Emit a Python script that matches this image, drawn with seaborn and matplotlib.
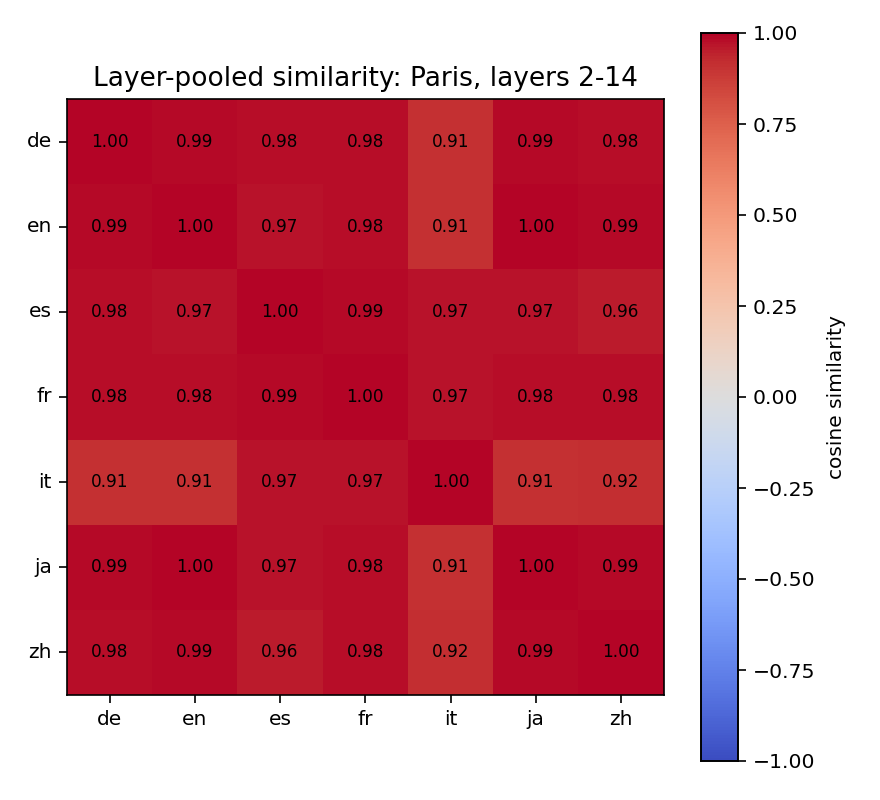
import matplotlib
matplotlib.use("Agg")
import matplotlib.pyplot as plt
import seaborn as sns
import pandas as pd

# limbile si matricea de similaritate
langs = ["de", "en", "es", "fr", "it", "ja", "zh"]
row_de = [1.00, 0.99, 0.98, 0.98, 0.91, 0.99, 0.98]
row_en = [0.99, 1.00, 0.97, 0.98, 0.91, 1.00, 0.99]
row_es = [0.98, 0.97, 1.00, 0.99, 0.97, 0.97, 0.96]
row_fr = [0.98, 0.98, 0.99, 1.00, 0.97, 0.98, 0.98]
row_it = [0.91, 0.91, 0.97, 0.97, 1.00, 0.91, 0.92]
row_ja = [0.99, 1.00, 0.97, 0.98, 0.91, 1.00, 0.99]
row_zh = [0.98, 0.99, 0.96, 0.98, 0.92, 0.99, 1.00]
cbar_ticks = [-1.00, -0.75, -0.50, -0.25, 0.00, 0.25, 0.50, 0.75, 1.00]

sim = pd.DataFrame([row_de, row_en, row_es, row_fr, row_it, row_ja, row_zh],
                   index=langs, columns=langs)

fig = plt.figure(figsize=(8.8, 8), dpi=100)
ax = fig.add_axes([0.0761, 0.13125, 0.678, 0.745])
cax = fig.add_axes([0.7966, 0.04875, 0.042, 0.91])

sns.heatmap(sim, ax=ax, cbar_ax=cax, cmap="coolwarm", vmin=-1, vmax=1,
            annot=True, fmt=".2f", annot_kws={"fontsize": 12.2, "color": "black"},
            cbar_kws={"label": "cosine similarity", "ticks": cbar_ticks})

# rama in jurul hartii
for s in ax.spines.values():
    s.set_visible(True)
    s.set_linewidth(1.2)
ax.tick_params(axis="both", length=5.8, width=1.2, pad=5, labelsize=14.5)
ax.set_yticklabels(langs, rotation=0)
ax.set_xticklabels(langs, rotation=0)
ax.set_title("Layer-pooled similarity: Paris, layers 2-14", fontsize=19, pad=9)

cax.tick_params(labelsize=14.7, length=5.8, width=1.2, pad=5)
cax.set_yticklabels([f"{t:.2f}".replace("-", "\u2212") for t in cbar_ticks])
cax.set_ylabel("cosine similarity", fontsize=14.5, labelpad=8)
for s in cax.spines.values():
    s.set_visible(True)
    s.set_linewidth(1.2)

fig.savefig("out.png", dpi=100)
